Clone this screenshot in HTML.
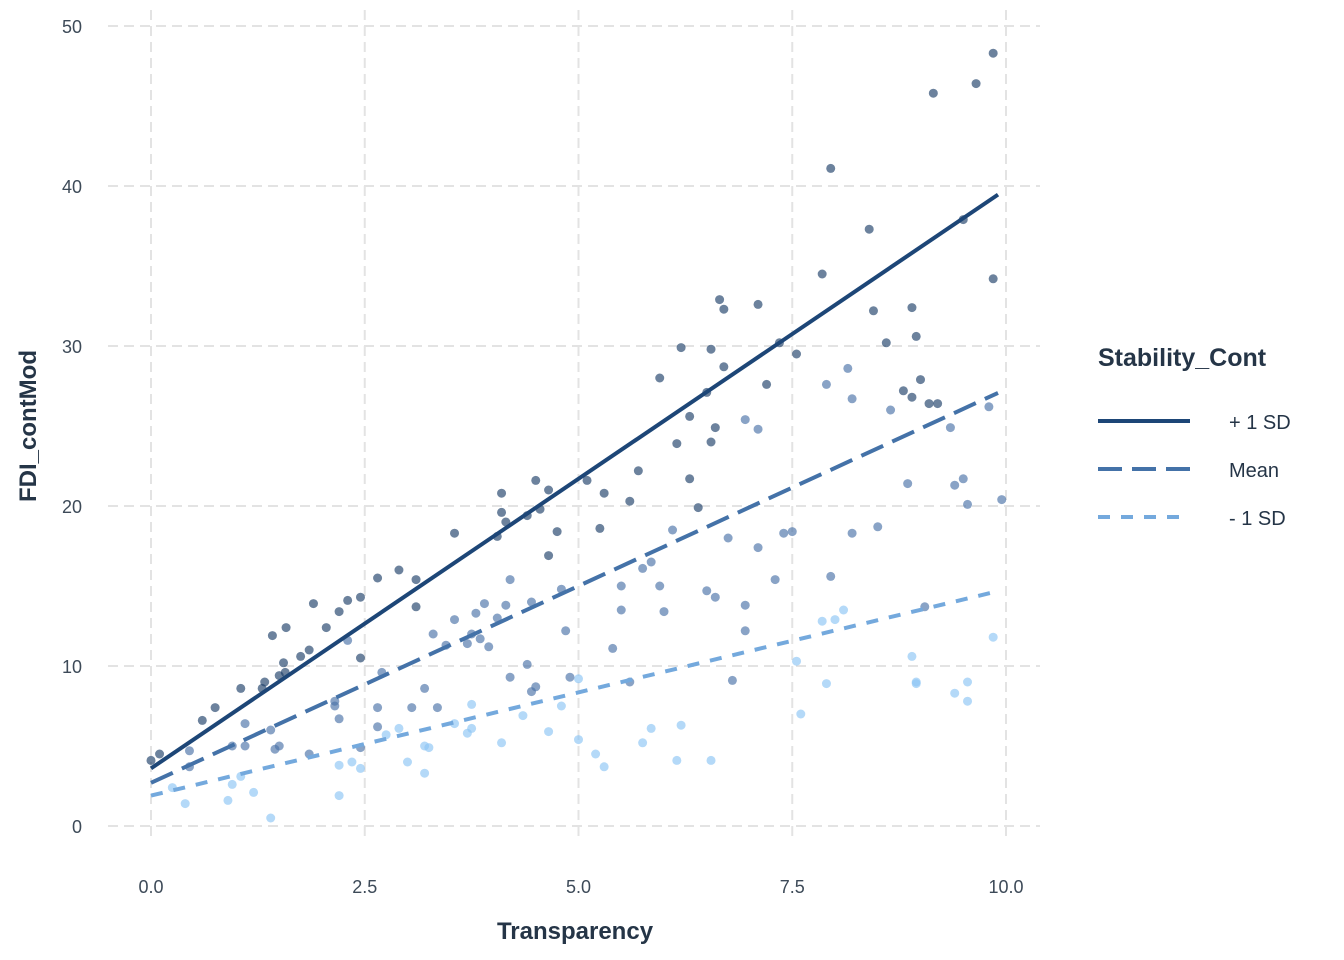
<!DOCTYPE html>
<html><head><meta charset="utf-8">
<style>
html,body{margin:0;padding:0;background:#fff;}
svg{display:block;font-family:"Liberation Sans",sans-serif;}
</style></head>
<body>
<svg id="chart" width="1344" height="960" xmlns="http://www.w3.org/2000/svg">
<g id="grid"></g>
<g id="points"></g>
<g id="lines"></g>
<g id="ticks"></g>
<text x="575" y="939" text-anchor="middle" font-size="24" font-weight="bold" fill="#253547">Transparency</text>
<text transform="translate(36,426) rotate(-90)" text-anchor="middle" font-size="24" font-weight="bold" fill="#253547">FDI_contMod</text>
<g>
<text x="1098" y="366" font-size="25" font-weight="bold" fill="#253547">Stability_Cont</text>
<line x1="1098" y1="421" x2="1190" y2="421" stroke="#1d4677" stroke-width="4"/>
<text x="1229" y="429" font-size="20" fill="#253547">+ 1 SD</text>
<line x1="1098" y1="469" x2="1190" y2="469" stroke="#4472a8" stroke-width="4" stroke-dasharray="24,10"/>
<text x="1229" y="477" font-size="20" fill="#253547">Mean</text>
<line x1="1098" y1="517" x2="1190" y2="517" stroke="#74a9dd" stroke-width="4" stroke-dasharray="12,11"/>
<text x="1229" y="525" font-size="20" fill="#253547">- 1 SD</text>
</g>
</svg>
<script>
const xTicks = [0, 2.5, 5, 7.5, 10];
const xTickLabels = ["0.0","2.5","5.0","7.5","10.0"];
const yTicks = [0,10,20,30,40,50];
const yTickLabels = ["0","10","20","30","40","50"];
const lineX = [0, 10];
const linePlus = [3.6, 39.8];
const lineMean = [2.7, 27.3];
const lineMinus = [1.9, 14.8];
const plusX = [0,0.1,0.6,0.75,1.05,1.3,1.33,1.42,1.5,1.55,1.58,1.57,1.75,1.85,1.9,2.05,2.2,2.3,2.45,2.45,2.65,2.9,3.1,3.1,3.55,4.05,4.1,4.1,4.15,4.4,4.5,4.55,4.65,4.75,4.65,5.1,5.3,5.25,5.6,5.7,5.95,6.2,6.15,6.3,6.3,6.4,6.5,6.55,6.6,6.55,6.65,6.7,6.7,7.1,7.2,7.35,7.55,7.85,7.95,8.4,8.45,8.6,8.9,8.95,9.15,9.5,9.65,9.85,9.85,9.0,9.1,9.2,8.8,8.9];
const plusY = [4.1,4.5,6.6,7.4,8.6,8.6,9.0,11.9,9.4,10.2,12.4,9.6,10.6,11.0,13.9,12.4,13.4,14.1,14.3,10.5,15.5,16.0,15.4,13.7,18.3,18.1,19.6,20.8,19.0,19.4,21.6,19.8,21.0,18.4,16.9,21.6,20.8,18.6,20.3,22.2,28.0,29.9,23.9,25.6,21.7,19.9,27.1,29.8,24.9,24.0,32.9,32.3,28.7,32.6,27.6,30.2,29.5,34.5,41.1,37.3,32.2,30.2,32.4,30.6,45.8,37.9,46.4,48.3,34.2,27.9,26.4,26.4,27.2,26.8];
const meanX = [0.45,0.45,0.95,1.1,1.1,1.4,1.45,1.5,1.85,2.15,2.15,2.2,2.3,2.45,2.65,2.65,2.7,3.05,3.2,3.3,3.35,3.45,3.55,3.7,3.75,3.8,3.85,3.9,3.95,4.05,4.15,4.2,4.2,4.4,4.45,4.45,4.5,4.8,4.85,4.9,5.4,5.5,5.5,5.6,5.75,5.85,5.95,6.0,6.1,6.5,6.6,6.75,6.8,6.95,6.95,6.95,7.1,7.1,7.3,7.4,7.5,7.9,7.95,8.15,8.2,8.2,8.5,8.65,8.85,9.35,9.4,9.5,9.55,9.8,9.95,9.05];
const meanY = [4.7,3.7,5.0,5.0,6.4,6.0,4.8,5.0,4.5,7.5,7.8,6.7,11.6,4.9,7.4,6.2,9.6,7.4,8.6,12.0,7.4,11.3,12.9,11.4,12.0,13.3,11.7,13.9,11.2,13.0,13.8,15.4,9.3,10.1,8.4,14.0,8.7,14.8,12.2,9.3,11.1,15.0,13.5,9.0,16.1,16.5,15.0,13.4,18.5,14.7,14.3,18.0,9.1,12.2,13.8,25.4,24.8,17.4,15.4,18.3,18.4,27.6,15.6,28.6,26.7,18.3,18.7,26.0,21.4,24.9,21.3,21.7,20.1,26.2,20.4,13.7];
const minusX = [0.25,0.4,0.9,0.95,1.05,1.2,1.4,2.2,2.2,2.35,2.45,2.75,2.9,3.0,3.2,3.2,3.25,3.55,3.7,3.75,3.75,4.1,4.35,4.65,4.8,5.0,5.0,5.2,5.3,5.75,5.85,6.15,6.2,6.55,7.55,7.6,7.85,7.9,8.0,8.1,8.9,8.95,8.95,9.4,9.55,9.55,9.85];
const minusY = [2.4,1.4,1.6,2.6,3.1,2.1,0.5,1.9,3.8,4.0,3.6,5.7,6.1,4.0,3.3,5.0,4.9,6.4,5.8,6.1,7.6,5.2,6.9,5.9,7.5,9.2,5.4,4.5,3.7,5.2,6.1,4.1,6.3,4.1,10.3,7.0,12.8,8.9,12.9,13.5,10.6,8.9,9.0,8.3,9.0,7.8,11.8];

const NS = "http://www.w3.org/2000/svg";
function sx(v){ return 151 + v * 85.5; }
function sy(v){ return 826 - v * 16; }
function mk(tag, attrs, parent){ const e=document.createElementNS(NS,tag); for(const k in attrs) e.setAttribute(k,attrs[k]); parent.appendChild(e); return e; }

const grid=document.getElementById('grid'), ticks=document.getElementById('ticks');
xTicks.forEach((t,i)=>{
  const l=mk('line',{x1:sx(t),x2:sx(t),y1:10,y2:842,stroke:'#e3e3e3','stroke-width':2,'stroke-dasharray':'10,6'},grid);
  
  
  const tx=mk('text',{x:sx(t),y:893,'text-anchor':'middle','font-size':18,fill:'#3d4a58'},ticks);
  tx.textContent=xTickLabels[i];
  
  
});
yTicks.forEach((t,i)=>{
  const l=mk('line',{x1:108,x2:1040,y1:sy(t),y2:sy(t),stroke:'#e3e3e3','stroke-width':2,'stroke-dasharray':'10,6'},grid);
  
  
  const tx=mk('text',{x:82,y:sy(t)+7,'text-anchor':'end','font-size':18,fill:'#3d4a58'},ticks);
  tx.textContent=yTickLabels[i];
  
  
});
const pts=document.getElementById('points');
function drawPts(xs,ys,col,name){
  xs.forEach((x,i)=>{
    const c=mk('circle',{cx:sx(x),cy:sy(ys[i]),r:4.5,fill:col,'fill-opacity':0.65},pts);
    
    
  });
}
drawPts(minusX,minusY,'#8cc4f5','point-minus1sd');
drawPts(meanX,meanY,'#4a72a8','point-mean');
drawPts(plusX,plusY,'#1d3f68','point-plus1sd');
const lines=document.getElementById('lines');
function drawLine(ys,col,dash,name){
  const l=mk('line',{x1:sx(lineX[0]),y1:sy(ys[0]),x2:sx(lineX[1])-8,y2:sy(ys[0]+(ys[1]-ys[0])*(1-8/855)),stroke:col,'stroke-width':4},lines);
  if(dash) l.setAttribute('stroke-dasharray',dash);
  
  
}
drawLine(lineMinus,'#74a9dd','12,11','line-minus1sd');
drawLine(lineMean,'#4472a8','24,10','line-mean');
drawLine(linePlus,'#1d4677',null,'line-plus1sd');
</script>
</body></html>
